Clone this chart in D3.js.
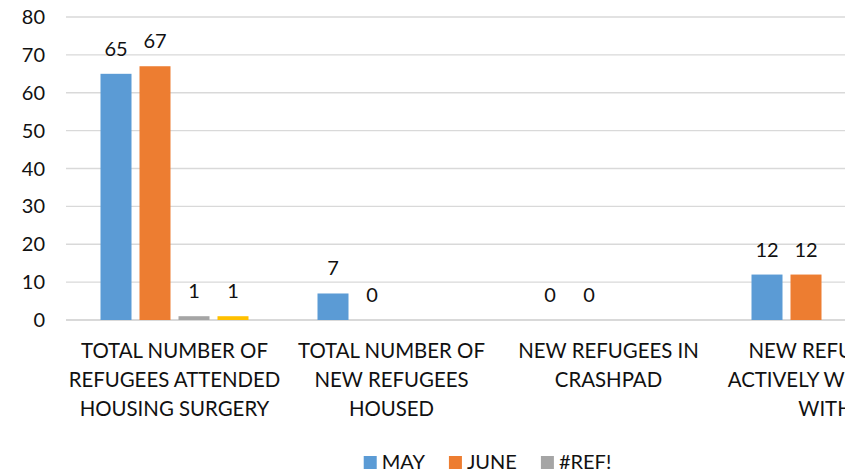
<!DOCTYPE html>
<html>
<head>
<meta charset="utf-8">
<script src="https://cdn.jsdelivr.net/npm/d3@7"></script>
<style>
  html, body { margin: 0; padding: 0; background: #fff; overflow: hidden; }
  #chart { width: 845px; height: 474px; overflow: hidden; }
  text { font-family: Lato, "Open Sans", sans-serif; fill: #111; }
</style>
</head>
<body>
<div id="chart"></div>
<script>
//Datos del gráfico
const categories = ['cat1', 'cat2', 'cat3', 'cat4'];
const categoryLines = [
    ['TOTAL NUMBER OF', 'REFUGEES ATTENDED', 'HOUSING SURGERY'],
    ['TOTAL NUMBER OF', 'NEW REFUGEES', 'HOUSED'],
    ['NEW REFUGEES IN', 'CRASHPAD'],
    ['NEW REFUGEES', 'ACTIVELY WORKING', 'WITH']
];
const seriesNames = ['MAY', 'JUNE', '#REF!', ''];
const mayValues = [65, 7, 0, 12];
const juneValues = [67, 0, 0, 12];
const refValues = [1, null, null, null];
const fourthValues = [1, null, null, null];
const yTicks = [0, 10, 20, 30, 40, 50, 60, 70, 80];

const COLORS = ['#5B9BD5', '#ED7D31', '#A5A5A5', '#FFC000'];
const allValues = [mayValues, juneValues, refValues, fourthValues];

//Dimensiones (el gráfico original sigue más allá del borde derecho)
let margin = {top: 17, left: 66, bottom: 154},
    fullWidth = 960,
    height = 474;

let svg = d3.select('#chart')
    .append('svg')
    .attr('width', fullWidth)
    .attr('height', height);

let y = d3.scaleLinear()
    .domain([0, 80])
    .range([height - margin.bottom, margin.top]);

let x0 = d3.scaleBand()
    .domain(categories)
    .range([margin.left, margin.left + 217 * categories.length]);

let x1 = d3.scaleBand()
    .domain(d3.range(seriesNames.length))
    .range([34.5, 217 - 34.5])
    .paddingInner(8 / 39);

//Rejilla
svg.append('g')
    .selectAll('line')
    .data(yTicks)
    .enter()
    .append('line')
    .attr('x1', margin.left)
    .attr('x2', fullWidth)
    .attr('y1', d => y(d))
    .attr('y2', d => y(d))
    .attr('stroke', '#d9d9d9')
    .attr('stroke-width', d => d == 0 ? 2 : 1.4);

//Eje Y
svg.append('g')
    .selectAll('text')
    .data(yTicks)
    .enter()
    .append('text')
    .attr('x', 45)
    .attr('y', d => y(d))
    .attr('dy', '0.35em')
    .attr('text-anchor', 'end')
    .style('font-size', '20px')
    .text(d => d);

//Barras
let rows = [];
categories.forEach(function(c, i) {
    allValues.forEach(function(vals, s) {
        rows.push({cat: c, serie: s, value: vals[i]});
    });
});

let bars = rows.filter(d => d.value !== null);

svg.append('g')
    .selectAll('rect')
    .data(bars)
    .enter()
    .append('rect')
    .attr('x', d => x0(d.cat) + x1(d.serie))
    .attr('y', d => y(d.value))
    .attr('width', x1.bandwidth())
    .attr('height', d => y(0) - y(d.value))
    .attr('fill', d => COLORS[d.serie]);

//Etiquetas de datos
svg.append('g')
    .selectAll('text')
    .data(bars)
    .enter()
    .append('text')
    .attr('x', d => x0(d.cat) + x1(d.serie) + x1.bandwidth() / 2)
    .attr('y', d => y(d.value) - 18)
    .attr('text-anchor', 'middle')
    .style('font-size', '20px')
    .text(d => d.value);

//Etiquetas de categorías
let catG = svg.append('g')
    .selectAll('text')
    .data(categories)
    .enter()
    .append('text')
    .attr('x', d => x0(d) + x0.bandwidth() / 2)
    .attr('y', 358)
    .attr('text-anchor', 'middle')
    .style('font-size', '20.4px');

catG.selectAll('tspan')
    .data((d, i) => categoryLines[i])
    .enter()
    .append('tspan')
    .attr('x', function() { return this.parentNode.getAttribute('x'); })
    .attr('dy', (d, i) => i == 0 ? 0 : 29)
    .text(d => d);

//Leyenda
let legend = svg.append('g');
let legendItems = seriesNames.slice(0, 3);
let cursor = 0;
legendItems.forEach(function(name, i) {
    let item = legend.append('g').attr('transform', 'translate(' + cursor + ',0)');
    item.append('rect')
        .attr('x', 0)
        .attr('y', -13)
        .attr('width', 13)
        .attr('height', 13)
        .attr('fill', COLORS[i]);
    let t = item.append('text')
        .attr('x', 18)
        .attr('y', 0)
        .style('font-size', '20px')
        .text(name);
    cursor += 18 + t.node().getComputedTextLength() + 24;
});
cursor -= 24;
legend.attr('transform', 'translate(' + (487.5 - cursor / 2) + ',469)');
</script>
</body>
</html>
